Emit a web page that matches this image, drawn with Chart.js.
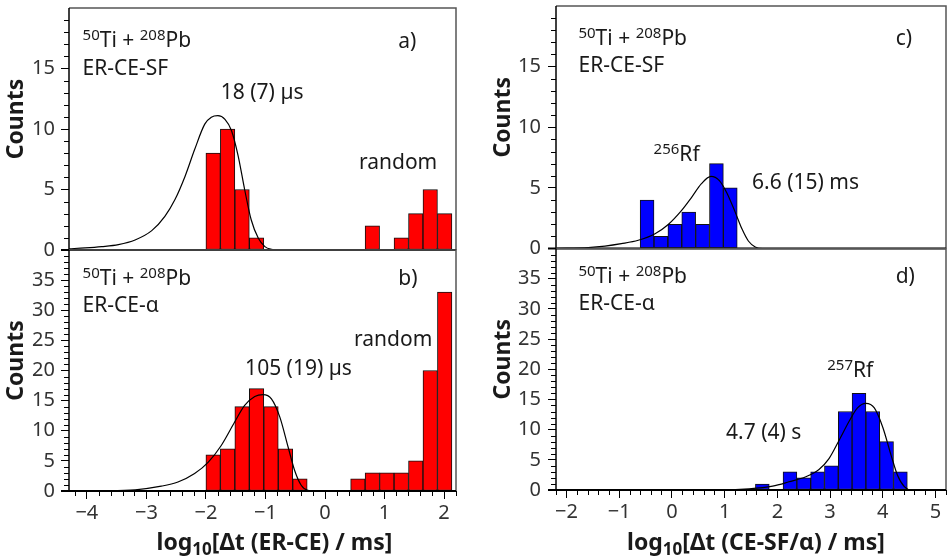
<!DOCTYPE html>
<html><head><meta charset="utf-8">
<script src="https://cdn.jsdelivr.net/npm/chart.js@4.4.1/dist/chart.umd.min.js"></script>
<style>
html,body{margin:0;padding:0;background:#fff;}
#wrap{position:relative;width:948px;height:559px;overflow:hidden;}
#wrap canvas{position:absolute;left:0;top:0;}
</style></head><body>
<div id="wrap">
<canvas id="ca" width="948" height="559"></canvas>
<canvas id="cb" width="948" height="559"></canvas>
<canvas id="cc" width="948" height="559"></canvas>
<canvas id="cd" width="948" height="559"></canvas>
</div>
<script>
// ---------------- data ----------------
// histogram bin centres (log10 of time in ms)
const binCentersER = [-1.879, -1.636, -1.393, -1.150, -0.907, -0.664, -0.421, -0.178, 0.066, 0.309, 0.552, 0.795, 1.038, 1.281, 1.524, 1.767, 2.010];
const countsA = [8, 10, 5, 1, 0, 0, 0, 0, 0, 0, 0, 2, 0, 1, 3, 5, 3];
const countsB = [6, 7, 14, 17, 14, 7, 2, 0, 0, 0, 2, 3, 3, 3, 5, 20, 33];
const binCentersC = [-0.472, -0.209, 0.055, 0.318, 0.581, 0.844, 1.107];
const countsC = [4, 1, 2, 3, 2, 7, 5];
const binCentersD = [1.715, 1.977, 2.239, 2.501, 2.763, 3.025, 3.287, 3.549, 3.811, 4.073, 4.335];
const countsD = [1, 0, 3, 2, 3, 4, 13, 16, 13, 8, 3];

// fitted decay curves
const fitAx = [-4.3, -4.03, -3.75, -3.47, -3.19, -2.91, -2.69, -2.52, -2.35, -2.19, -2.02, -1.91, -1.80, -1.68, -1.57, -1.46, -1.35, -1.24, -1.12, -1.01, -0.90, -0.80, 2.2];
const fitAy = [0.10, 0.17, 0.28, 0.45, 0.83, 1.6, 2.78, 4.17, 6.1, 8.3, 10.4, 10.97, 11.1, 10.8, 9.86, 7.8, 5.0, 2.5, 0.97, 0.28, 0.05, 0, 0];
const fitBx = [-4.3, -3.75, -3.19, -2.75, -2.47, -2.19, -1.96, -1.74, -1.52, -1.35, -1.18, -1.04, -0.90, -0.76, -0.62, -0.51, -0.40, -0.29, -0.18, 2.2];
const fitBy = [0.02, 0.05, 0.2, 0.8, 1.5, 2.9, 4.8, 7.6, 11.4, 14.2, 15.7, 16.0, 15.3, 12.3, 7.3, 3.4, 0.95, 0.1, 0, 0];
const fitCx = [-2.2, -1.59, -1.27, -0.96, -0.64, -0.32, -0.07, 0.18, 0.37, 0.56, 0.74, 0.90, 1.04, 1.20, 1.33, 1.45, 1.58, 1.72, 5.2];
const fitCy = [0.02, 0.08, 0.2, 0.4, 0.68, 1.22, 1.98, 3.12, 4.2, 5.35, 5.95, 5.6, 4.6, 3.0, 1.6, 0.62, 0.13, 0, 0];
const fitDx = [-2.2, 0.96, 1.46, 1.91, 2.22, 2.54, 2.79, 2.98, 3.17, 3.37, 3.52, 3.68, 3.84, 4.0, 4.16, 4.28, 4.41, 4.54, 5.2];
const fitDy = [0, 0.02, 0.2, 0.65, 1.36, 2.2, 3.4, 5.2, 8.2, 11.5, 13.6, 14.35, 13.6, 10.4, 5.7, 2.45, 0.55, 0, 0];

// tick labels
const xTicksLeft = [-4, -3, -2, -1, 0, 1, 2];
const xTicksRight = [-2, -1, 0, 1, 2, 3, 4, 5];
const yTicksSF = [0, 5, 10, 15];
const yTicksAlpha = [0, 5, 10, 15, 20, 25, 30, 35];

// ---------------- helpers ----------------
const FONT = '"Noto Sans", "Open Sans", sans-serif';
const NOTE_SIZE = 21, TICK_SIZE = 20, TITLE_SIZE = 23, YTITLE_SIZE = 23;
const fmt = v => String(v).replace('-', '\u2212');

function richWidth(ctx, parts, size, weight) {
  let w = 0;
  for (const p of parts) {
    const s = (p.sup || p.sub) ? Math.round(size * 0.72) : size;
    ctx.font = `${weight} ${s}px ${FONT}`;
    w += ctx.measureText(p.t).width;
  }
  return w;
}
function drawRich(ctx, x, y, parts, size, weight) {
  let cx = x;
  ctx.textAlign = 'left';
  ctx.textBaseline = 'alphabetic';
  for (const p of parts) {
    const s = (p.sup || p.sub) ? Math.round(size * 0.72) : size;
    ctx.font = `${weight} ${s}px ${FONT}`;
    const dy = p.sup ? -7 : (p.sub ? 5 : 0);
    ctx.fillText(p.t, cx, y + dy);
    cx += ctx.measureText(p.t).width;
  }
}

function makePanel(id, o) {
  const deco = {
    id: 'deco_' + id,
    afterDatasetsDraw(chart) {
      const ctx = chart.ctx;
      const {left, right, top, bottom} = chart.chartArea;
      const xs = chart.scales.x, ys = chart.scales.y;
      ctx.save();
      // frame
      ctx.strokeStyle = '#555'; ctx.lineWidth = 1.5;
      ctx.beginPath(); ctx.moveTo(left, top); ctx.lineTo(right, top); ctx.lineTo(right, bottom); ctx.stroke();
      ctx.strokeStyle = '#000';
      ctx.beginPath(); ctx.moveTo(left, top); ctx.lineTo(left, bottom); ctx.stroke();
      ctx.lineWidth = 2;
      ctx.beginPath(); ctx.moveTo(left - 8, bottom); ctx.lineTo(right, bottom); ctx.stroke();
      // minor ticks
      ctx.lineWidth = 1;
      ctx.beginPath();
      for (let v = 1; v < o.ymax; v++) {
        if (v % 5 === 0) continue;
        const py = Math.round(ys.getPixelForValue(v)) + 0.5;
        ctx.moveTo(left - 5, py); ctx.lineTo(left, py);
      }
      if (o.showX) {
        for (let k = Math.ceil(o.xmin * 5); k <= Math.floor(o.xmax * 5); k++) {
          if (k % 5 === 0) continue;
          const px = Math.round(xs.getPixelForValue(k / 5)) + 0.5;
          ctx.moveTo(px, bottom); ctx.lineTo(px, bottom + 5);
        }
      }
      ctx.stroke();
      ctx.restore();
    },
    afterDraw(chart) {
      const ctx = chart.ctx;
      const {left, right, top, bottom} = chart.chartArea;
      const xs = chart.scales.x, ys = chart.scales.y;
      ctx.save();
      ctx.fillStyle = '#1a1a1a';
      for (const a of o.notes) {
        drawRich(ctx, xs.getPixelForValue(a.x), ys.getPixelForValue(a.y), a.parts, NOTE_SIZE, 'normal');
      }
      // y title
      ctx.save();
      ctx.translate(left - 53, (top + bottom) / 2 - 10);
      ctx.rotate(-Math.PI / 2);
      ctx.font = `bold ${YTITLE_SIZE}px ${FONT}`;
      ctx.textAlign = 'center'; ctx.textBaseline = 'middle';
      ctx.fillText('Counts', 0, 0);
      ctx.restore();
      // x title
      if (o.xTitle) {
        const w = richWidth(ctx, o.xTitle, TITLE_SIZE, 'bold');
        const cx = (left + right) / 2 + o.xTitleDx;
        drawRich(ctx, cx - w / 2, 550, o.xTitle, TITLE_SIZE, 'bold');
      }
      ctx.restore();
    }
  };

  return new Chart(document.getElementById(id), {
    type: 'bar',
    data: {
      datasets: [
        {
          type: 'line',
          data: o.fitX.map((x, i) => ({x: x, y: o.fitY[i]})),
          borderColor: '#000', borderWidth: 1.2, pointRadius: 0,
          cubicInterpolationMode: 'monotone', fill: false, order: 0
        },
        {
          type: 'bar',
          data: o.centers.map((x, i) => ({x: x, y: o.counts[i]})),
          backgroundColor: o.color,
          borderColor: '#111',
          borderWidth: c => (c.raw && c.raw.y > 0) ? 1 : 0,
          borderSkipped: false,
          barPercentage: 1, categoryPercentage: 1, order: 1
        }
      ]
    },
    options: {
      responsive: false, animation: false, events: [],
      layout: {padding: {left: o.padL, right: o.padR, top: o.top, bottom: o.padB}},
      plugins: {legend: {display: false}, tooltip: {enabled: false}},
      scales: {
        x: {
          type: 'linear', min: o.xmin, max: o.xmax, offset: false, display: o.showX,
          grid: {display: true, offset: false, drawOnChartArea: false, drawTicks: true, tickLength: 8, color: '#000', lineWidth: 1},
          border: {display: false},
          ticks: {font: {family: FONT, size: TICK_SIZE}, color: '#333', padding: 2, maxRotation: 0, autoSkip: false, callback: v => fmt(v)},
          afterBuildTicks: s => { s.ticks = o.xTicks.map(v => ({value: v})); },
          afterFit: s => { s.height = o.xH; s.paddingLeft = 0; s.paddingRight = 0; s.paddingTop = 0; s.paddingBottom = 0; }
        },
        y: {
          type: 'linear', min: 0, max: o.ymax,
          grid: {display: true, drawOnChartArea: false, drawTicks: true, tickLength: 8, color: '#000', lineWidth: 1},
          border: {display: false},
          ticks: {font: {family: FONT, size: TICK_SIZE}, color: '#333', padding: o.yPad, callback: v => fmt(v)},
          afterBuildTicks: s => { s.ticks = o.yTicks.map(v => ({value: v})); },
          afterFit: s => { s.width = 69; s.paddingTop = 0; s.paddingBottom = 0; s.paddingLeft = 0; s.paddingRight = 0; }
        }
      }
    },
    plugins: [deco]
  });
}

const TiPb = [{t: '50', sup: true}, {t: 'Ti + '}, {t: '208', sup: true}, {t: 'Pb'}];

makePanel('ca', {
  padL: 0, padR: 492, top: 8, padB: 309, xH: 0, showX: false,
  xmin: -4.3, xmax: 2.2, ymax: 20, xTicks: xTicksLeft, yTicks: yTicksSF, yPad: 6,
  centers: binCentersER, counts: countsA, fitX: fitAx, fitY: fitAy, color: '#ff0000',
  notes: [
    {x: -4.072, y: 16.81, parts: TiPb},
    {x: -4.072, y: 14.5, parts: [{t: 'ER-CE-SF'}]},
    {x: 1.23, y: 16.72, parts: [{t: 'a)'}]},
    {x: -1.75, y: 12.5, parts: [{t: '18 (7) \u00b5s'}]},
    {x: 0.57, y: 6.72, parts: [{t: 'random'}]}
  ]
});
makePanel('cb', {
  padL: 0, padR: 492, top: 250, padB: 0, xH: 68, showX: true,
  xmin: -4.3, xmax: 2.2, ymax: 40, xTicks: xTicksLeft, yTicks: yTicksAlpha, yPad: 6,
  centers: binCentersER, counts: countsB, fitX: fitBx, fitY: fitBy, color: '#ff0000',
  xTitle: [{t: 'log'}, {t: '10', sub: true}, {t: '[\u0394t (ER-CE) / ms]'}], xTitleDx: 12,
  notes: [
    {x: -4.072, y: 34.17, parts: TiPb},
    {x: -4.072, y: 29.64, parts: [{t: 'ER-CE-\u03b1'}]},
    {x: 1.23, y: 34.17, parts: [{t: 'b)'}]},
    {x: 0.487, y: 24.12, parts: [{t: 'random'}]},
    {x: -1.342, y: 19.27, parts: [{t: '105 (19) \u00b5s'}]}
  ]
});
makePanel('cc', {
  padL: 487, padR: 2, top: 6, padB: 310.5, xH: 0, showX: false,
  xmin: -2.2, xmax: 5.2, ymax: 20, xTicks: xTicksRight, yTicks: yTicksSF, yPad: 7,
  centers: binCentersC, counts: countsC, fitX: fitCx, fitY: fitCy, color: '#0000ff',
  notes: [
    {x: -1.774, y: 16.78, parts: TiPb},
    {x: -1.774, y: 14.58, parts: [{t: 'ER-CE-SF'}]},
    {x: 4.245, y: 16.78, parts: [{t: 'c)'}]},
    {x: -0.348, y: 7.22, parts: [{t: '256', sup: true}, {t: 'Rf'}]},
    {x: 1.521, y: 4.88, parts: [{t: '6.6 (15) ms'}]}
  ]
});
makePanel('cd', {
  padL: 487, padR: 2, top: 248.5, padB: 0, xH: 69, showX: true,
  xmin: -2.2, xmax: 5.2, ymax: 40, xTicks: xTicksRight, yTicks: yTicksAlpha, yPad: 7,
  centers: binCentersD, counts: countsD, fitX: fitDx, fitY: fitDy, color: '#0000ff',
  xTitle: [{t: 'log'}, {t: '10', sub: true}, {t: '[\u0394t (CE-SF/\u03b1) / ms]'}], xTitleDx: 5,
  notes: [
    {x: -1.774, y: 34.34, parts: TiPb},
    {x: -1.774, y: 29.81, parts: [{t: 'ER-CE-\u03b1'}]},
    {x: 4.245, y: 34.34, parts: [{t: 'd)'}]},
    {x: 2.947, y: 18.67, parts: [{t: '257', sup: true}, {t: 'Rf'}]},
    {x: 1.027, y: 8.45, parts: [{t: '4.7 (4) s'}]}
  ]
});
</script>
</body></html>
